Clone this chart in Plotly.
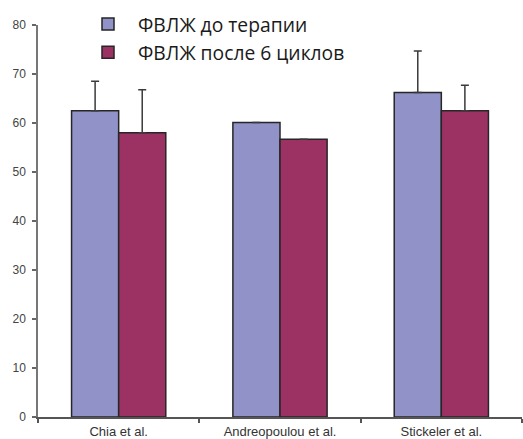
import plotly.graph_objects as go

# Studies and LVEF values (%) before therapy and after 6 cycles
studies = ["Chia et al.", "Andreopoulou et al.", "Stickeler et al."]
lvef_before = [62.5, 60.1, 66.2]
lvef_before_sd = [6.0, 0.0, 8.5]
lvef_after = [58.0, 56.7, 62.5]
lvef_after_sd = [8.8, 0.0, 5.2]
y_ticks = [0, 10, 20, 30, 40, 50, 60, 70, 80]

W, H = 523, 439
M = dict(l=38, r=1, t=25, b=22)

err_style = dict(type="data", symmetric=False, color="#3a3a3a", thickness=1.5, width=4)
bar_line = dict(color="#262626", width=1.5)

fig = go.Figure()
fig.add_trace(go.Bar(
    x=studies, y=lvef_before, name="ФВЛЖ до терапии",
    marker=dict(color="#9192c8", line=bar_line),
    error_y=dict(array=lvef_before_sd, arrayminus=[0] * len(studies), **err_style),
))
fig.add_trace(go.Bar(
    x=studies, y=lvef_after, name="ФВЛЖ после 6 циклов",
    marker=dict(color="#9c3263", line=bar_line),
    error_y=dict(array=lvef_after_sd, arrayminus=[0] * len(studies), **err_style),
))

plot_w = W - M["l"] - M["r"]
plot_h = H - M["t"] - M["b"]

fig.update_layout(
    width=W, height=H, margin=M,
    paper_bgcolor="white", plot_bgcolor="white",
    barmode="group", bargap=0.416, bargroupgap=0,
    showlegend=True,
    legend=dict(
        x=(78 - M["l"]) / plot_w, y=(H - M["b"] - 5) / plot_h,
        xanchor="left", yanchor="top",
        bgcolor="rgba(0,0,0,0)",
        font=dict(family="Open Sans", size=19.3, color="#1a1a1a"),
        itemwidth=50,
    ),
    font=dict(family="Liberation Sans, Arial", color="#444444"),
)
fig.update_xaxes(
    type="category", tickson="boundaries",
    showline=True, linecolor="#555555", linewidth=1.5,
    ticks="outside", ticklen=4, tickcolor="#555555", tickwidth=1.5,
    tickfont=dict(size=13, color="#333333"),
    ticklabelstandoff=2,
    showgrid=False, zeroline=False,
)
fig.update_yaxes(
    range=[0, 80], tickvals=y_ticks, ticktext=[str(v) for v in y_ticks],
    showline=True, linecolor="#777777", linewidth=1.5,
    ticks="outside", ticklen=4, tickcolor="#666666", tickwidth=1.5,
    tickfont=dict(size=12, color="#444444"),
    ticklabelstandoff=4,
    showgrid=False, zeroline=False,
)

fig.write_html("out.html")
